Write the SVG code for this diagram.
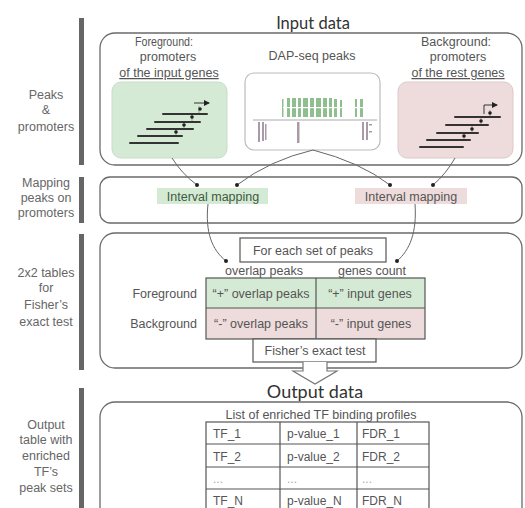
<svg xmlns="http://www.w3.org/2000/svg" width="525" height="508" viewBox="0 0 525 508">
  <defs>
    <style>
      .t { font-family: "Liberation Sans", Arial, sans-serif; font-size: 12.5px; fill: #555; }
      .side { font-family: "Liberation Sans", Arial, sans-serif; font-size: 12.5px; fill: #666; text-anchor: middle; }
      .cell { font-family: "Liberation Sans", Arial, sans-serif; font-size: 12px; fill: #555; }
      .title { font-family: Lato, "Open Sans", sans-serif; fill: #333; text-anchor: middle; }
      .c { text-anchor: middle; }
      .panel { fill: #fff; stroke: #6a6a6a; stroke-width: 1.3; }
      .bar { fill: #666; }
      .tbl { fill: none; stroke: #555; stroke-width: 1.2; }
      .conn { fill: none; stroke: #666; stroke-width: 1; }
      .dot { fill: #222; }
      .gene { stroke: #333; stroke-width: 2; stroke-linecap: round; }
      .fg { fill: #d5ead5; }
      .bg { fill: #eedcdc; }
    </style>
    <marker id="tss" markerWidth="6" markerHeight="6" refX="5" refY="3" orient="auto" markerUnits="userSpaceOnUse">
      <path d="M0,0 L6,3 L0,6 z" fill="#222"/>
    </marker>
  </defs>
  <rect width="525" height="508" fill="#fff"/>

  <!-- left column: stage labels with bars -->
  <g id="stage-labels">
    <rect class="bar" x="79" y="18" width="5" height="147"/>
    <text class="side" x="46" y="99">Peaks</text>
    <text class="side" x="46" y="114">&amp;</text>
    <text class="side" x="46" y="131">promoters</text>

    <rect class="bar" x="79" y="177" width="5" height="46"/>
    <text class="side" x="46" y="187">Mapping</text>
    <text class="side" x="46" y="202">peaks on</text>
    <text class="side" x="46" y="217">promoters</text>

    <rect class="bar" x="79" y="234" width="5" height="136"/>
    <text class="side" x="46" y="277">2x2 tables</text>
    <text class="side" x="46" y="292">for</text>
    <text class="side" x="46" y="309">Fisher’s</text>
    <text class="side" x="46" y="326">exact test</text>

    <rect class="bar" x="79" y="388" width="5" height="125"/>
    <text class="side" x="46" y="429">Output</text>
    <text class="side" x="46" y="444">table with</text>
    <text class="side" x="46" y="460">enriched</text>
    <text class="side" x="46" y="476">TF’s</text>
    <text class="side" x="46" y="492">peak sets</text>
  </g>

  <!-- input data panel -->
  <g id="input-data">
    <text class="title" x="313" y="29" font-size="16.5">Input data</text>
    <rect class="panel" x="100" y="33" width="422" height="132" rx="15"/>
  </g>

  <g id="foreground">
    <text class="t c" x="164" y="46" textLength="58" lengthAdjust="spacingAndGlyphs">Foreground:</text>
    <text class="t c" x="168" y="61">promoters</text>
    <text class="t c" x="169" y="77" text-decoration="underline">of the input genes</text>
    <rect class="fg" x="112" y="82" width="115" height="76" rx="9" stroke="#c9dcc9" stroke-width="1"/>
    <g stroke="#999" stroke-width="1">
      <line x1="199" y1="106" x2="199" y2="114"/>
      <line x1="192" y1="113" x2="192" y2="122"/>
      <line x1="184" y1="121" x2="184" y2="129"/>
      <line x1="176" y1="128" x2="176" y2="136"/>
    </g>
    <line class="gene" x1="130" y1="143" x2="178" y2="143"/>
    <line class="gene" x1="138" y1="136" x2="182" y2="136"/>
    <line class="gene" x1="147" y1="129" x2="193" y2="129"/>
    <line class="gene" x1="155" y1="122" x2="200" y2="122"/>
    <line class="gene" x1="163" y1="114" x2="207" y2="114"/>
    <g class="dot">
      <circle cx="200" cy="109" r="1.8"/>
      <circle cx="192" cy="117" r="1.8"/>
      <circle cx="184" cy="125" r="1.8"/>
      <circle cx="176" cy="132" r="1.8"/>
    </g>
    <line x1="194" y1="103" x2="209" y2="103" stroke="#333" stroke-width="1" marker-end="url(#tss)"/>
  </g>

  <g id="dap-seq">
    <text class="t c" x="312" y="60">DAP-seq peaks</text>
    <rect x="245" y="73" width="135" height="77" rx="9" fill="#fff" stroke="#bbb" stroke-width="1.2"/>
    <!-- peak track -->
    <g fill="#8fbf8f">
      <rect x="282" y="99" width="1.5" height="18"/>
      <rect x="287" y="98" width="3" height="19"/>
      <rect x="292" y="98" width="4" height="19"/>
      <rect x="298" y="98" width="3" height="19"/>
      <rect x="303" y="98" width="5" height="19"/>
      <rect x="310" y="98" width="4" height="19"/>
      <rect x="316" y="98" width="5" height="19"/>
      <rect x="323" y="98" width="4" height="19"/>
      <rect x="329" y="98" width="3" height="19"/>
      <rect x="334" y="99" width="3" height="18"/>
      <rect x="340" y="100" width="2" height="17"/>
      <rect x="355" y="99" width="2" height="18"/>
      <rect x="360" y="99" width="3" height="18"/>
    </g>
    <rect x="283" y="107" width="80" height="1.2" fill="#fff"/>
    <line x1="253" y1="120" x2="377" y2="120" stroke="#aaa" stroke-width="1"/>
    <g fill="#a89aa6">
      <rect x="258" y="122" width="2" height="20"/>
      <rect x="262" y="122" width="2" height="19"/>
      <rect x="265" y="124" width="1.5" height="16"/>
      <rect x="297" y="122" width="2.5" height="21"/>
      <rect x="362" y="122" width="2" height="18"/>
      <rect x="366" y="122" width="2" height="18"/>
      <rect x="369" y="124" width="3" height="1.5"/>
      <rect x="369" y="131" width="3" height="1.5"/>
    </g>
  </g>

  <g id="background">
    <text class="t c" x="456" y="46">Background:</text>
    <text class="t c" x="458" y="61">promoters</text>
    <text class="t c" x="458" y="77" text-decoration="underline">of the rest genes</text>
    <rect class="bg" x="398" y="82" width="115" height="76" rx="9" stroke="#ddc9c9" stroke-width="1"/>
    <g stroke="#999" stroke-width="1">
      <line x1="490" y1="110" x2="490" y2="118"/>
      <line x1="481" y1="117" x2="481" y2="125"/>
      <line x1="472" y1="124" x2="472" y2="133"/>
      <line x1="464" y1="132" x2="464" y2="140"/>
    </g>
    <line class="gene" x1="420" y1="147" x2="463" y2="147"/>
    <line class="gene" x1="427" y1="140" x2="470" y2="140"/>
    <line class="gene" x1="437" y1="133" x2="478" y2="133"/>
    <line class="gene" x1="446" y1="125" x2="488" y2="125"/>
    <line class="gene" x1="455" y1="117" x2="500" y2="117"/>
    <g class="dot">
      <circle cx="490" cy="113" r="1.8"/>
      <circle cx="481" cy="121" r="1.8"/>
      <circle cx="472" cy="129" r="1.8"/>
      <circle cx="464" cy="136" r="1.8"/>
    </g>
    <path d="M484,114 V105 H497" fill="none" stroke="#333" stroke-width="1" marker-end="url(#tss)"/>
  </g>

  <!-- mapping panel -->
  <g id="mapping">
    <rect class="panel" x="100" y="177" width="422" height="46" rx="10"/>
    <g id="mapping-fg">
      <rect class="fg" x="157" y="188" width="111" height="16"/>
      <text class="t c" x="213" y="201" style="fill:#3d5a3d">Interval mapping</text>
    </g>
    <g id="mapping-bg">
      <rect class="bg" x="355" y="188" width="112" height="16"/>
      <text class="t c" x="411" y="201" style="fill:#555">Interval mapping</text>
    </g>
  </g>

  <!-- 2x2 table panel -->
  <g id="contingency">
    <rect class="panel" x="100" y="233" width="422" height="135" rx="15"/>
    <g id="each-set">
      <rect x="240" y="238" width="146" height="24" fill="#fff" stroke="#555" stroke-width="1.2"/>
      <text class="t c" x="313" y="255" font-size="13.5">For each set of peaks</text>
    </g>
    <text class="t c" x="264" y="275">overlap peaks</text>
    <text class="t c" x="372" y="275">genes count</text>
    <text class="t" x="197" y="298" text-anchor="end">Foreground</text>
    <text class="t" x="197" y="328" text-anchor="end">Background</text>
    <rect class="fg" x="206" y="278" width="219" height="30"/>
    <rect class="bg" x="206" y="308" width="219" height="31"/>
    <rect class="tbl" x="206" y="278" width="219" height="61"/>
    <line class="tbl" x1="316" y1="278" x2="316" y2="339"/>
    <line class="tbl" x1="206" y1="308" x2="425" y2="308"/>
    <text class="t c" x="261" y="298">“+” overlap peaks</text>
    <text class="t c" x="370" y="298">“+” input genes</text>
    <text class="t c" x="261" y="328">“-” overlap peaks</text>
    <text class="t c" x="371" y="328">“-” input genes</text>
    <g id="fisher">
      <rect x="253" y="339" width="123" height="23" fill="#fff" stroke="#555" stroke-width="1.2"/>
      <text class="t c" x="315" y="355" font-size="13">Fisher’s exact test</text>
    </g>
  </g>

  <!-- connectors -->
  <g id="connectors">
    <path class="conn" d="M172,158 Q182,174 197,185"/>
    <path class="conn" d="M313,150 Q270,160 237,185"/>
    <path class="conn" d="M313,150 Q360,162 390,185"/>
    <path class="conn" d="M455,158 Q446,174 433,185"/>
    <path class="conn" d="M208,204 C205,232 212,250 226,261"/>
    <path class="conn" d="M415,204 C417,232 410,250 397,261"/>
    <g class="dot">
      <circle cx="197" cy="185" r="2"/>
      <circle cx="237" cy="185" r="2"/>
      <circle cx="390" cy="185" r="2"/>
      <circle cx="433" cy="185" r="2"/>
      <circle cx="226" cy="261" r="2"/>
      <circle cx="397" cy="261" r="2"/>
    </g>
    <path d="M303,362 V371 H293 L315,384 L337,371 H327 V362" fill="#fff" stroke="#777" stroke-width="1.2"/>
  </g>

  <!-- output panel -->
  <g id="output-data">
    <text class="title" x="315" y="398" font-size="18">Output data</text>
    <rect class="panel" x="100" y="402" width="422" height="130" rx="15"/>
    <text class="t c" x="321" y="419">List of enriched TF binding profiles</text>
    <g id="result-table">
      <rect class="tbl" x="206" y="422" width="223" height="100"/>
      <line class="tbl" x1="280" y1="422" x2="280" y2="522"/>
      <line class="tbl" x1="357" y1="422" x2="357" y2="522"/>
      <line class="tbl" x1="206" y1="444" x2="429" y2="444"/>
      <line class="tbl" x1="206" y1="467" x2="429" y2="467"/>
      <line class="tbl" x1="206" y1="489" x2="429" y2="489"/>
      <text class="cell" x="213" y="438">TF_1</text>
      <text class="cell" x="287" y="438">p-value_1</text>
      <text class="cell" x="362" y="438">FDR_1</text>
      <text class="cell" x="213" y="461">TF_2</text>
      <text class="cell" x="287" y="461">p-value_2</text>
      <text class="cell" x="362" y="461">FDR_2</text>
      <text class="cell" x="213" y="483" style="fill:#aaa">...</text>
      <text class="cell" x="287" y="483" style="fill:#aaa">...</text>
      <text class="cell" x="362" y="483" style="fill:#aaa">...</text>
      <text class="cell" x="213" y="505">TF_N</text>
      <text class="cell" x="287" y="505">p-value_N</text>
      <text class="cell" x="362" y="505">FDR_N</text>
    </g>
  </g>
</svg>
